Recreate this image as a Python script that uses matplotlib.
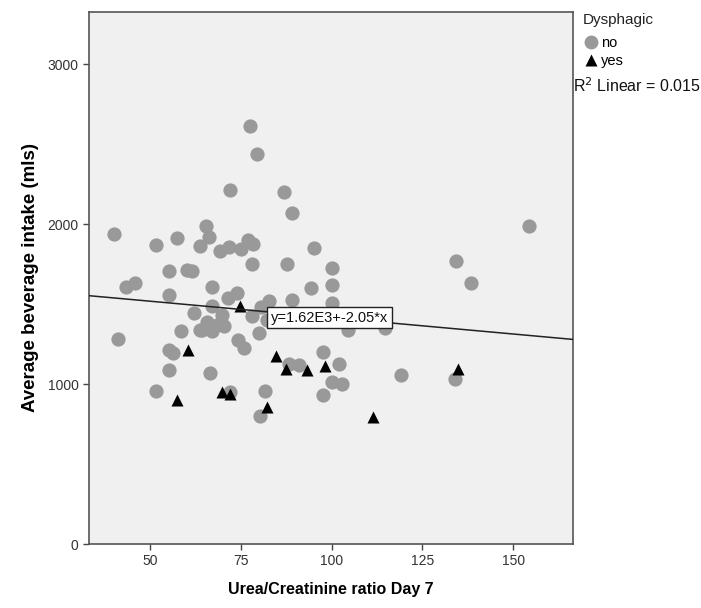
import numpy as np
import matplotlib
matplotlib.use("Agg")
import matplotlib.pyplot as plt
from matplotlib.lines import Line2D

plt.rcParams['font.family'] = ['Liberation Sans', 'DejaVu Sans']

# Dysphagic = no
no_x = [40.0, 41.1, 43.5, 45.9, 51.6, 51.7, 55.3, 55.3, 55.3, 56.3, 55.1, 57.3,
        58.6, 60.2, 61.5, 62.0, 63.7, 64.2, 65.4, 65.7, 66.2, 66.6, 67.0, 67.0,
        67.1, 69.2, 69.9, 70.3, 71.7, 72.1, 72.1, 71.6, 74.0, 74.3, 75.8, 75.0,
        77.0, 77.6, 78.4, 78.0, 78.0, 79.6, 80.0, 80.2, 80.6, 81.7, 82.2, 82.9,
        86.9, 87.6, 89.0, 89.0, 88.3, 91.0, 94.3, 95.1, 97.7, 97.7, 100.1, 100.1,
        100.1, 100.1, 102.0, 103.0, 104.4, 114.8, 119.2, 134.0, 134.3, 138.4, 154.4,
        63.8, 68.4]
no_y = [1937, 1283, 1604, 1633, 1871, 955, 1706, 1558, 1212, 1196, 1088, 1914,
        1333, 1710, 1706, 1442, 1865, 1337, 1986, 1390, 1921, 1069, 1606, 1333,
        1487, 1831, 1434, 1362, 1857, 2211, 953, 1540, 1567, 1276, 1227, 1843,
        1902, 2612, 1877, 1752, 1423, 2437, 1319, 802, 1483, 958, 1402, 1517,
        2202, 1752, 2069, 1527, 1127, 1119, 1599, 1851, 1198, 929, 1726, 1620,
        1505, 1013, 1122, 1000, 1336, 1350, 1054, 1034, 1770, 1630, 1988,
        1337, 1369]

# Dysphagic = yes
yes_x = [57.3, 60.5, 69.8, 72.0, 74.9, 82.1, 84.6, 87.5, 93.2, 98.3, 111.4, 134.8]
yes_y = [897, 1212, 947, 939, 1488, 857, 1176, 1093, 1089, 1114, 796, 1095]

# fit line from the chart
intercept = 1620
slope = -2.05
r2 = 0.015

fig = plt.figure(figsize=(7.01, 6.08), dpi=100)
ax = fig.add_axes([89 / 701, 64 / 608, 484 / 701, 532 / 608])
ax.set_facecolor('#f0f0f0')

ax.scatter(no_x, no_y, s=105, c='#999999', marker='o', linewidths=0, zorder=2)
ax.scatter(yes_x, yes_y, s=75, c='black', marker='^', linewidths=0, zorder=3)

xlim = (33.2, 166.5)
ax.set_xlim(xlim)
ax.set_ylim(0, 3325)
lx = np.array(xlim)
ax.plot(lx, intercept + slope * lx, color='#222222', lw=1.1, zorder=4)

ax.text(99.5, 1415, 'y=1.62E3+-2.05*x', fontsize=10.5, color='#111111',
        ha='center', va='center', zorder=5,
        bbox=dict(boxstyle='square,pad=0.25', fc='white', ec='#222222', lw=1))

ax.set_xticks([50, 75, 100, 125, 150])
ax.set_yticks([0, 1000, 2000, 3000])
ax.tick_params(direction='out', length=4, width=1, colors='#444444',
               labelsize=10, labelcolor='#333333')
for side in ['top', 'right', 'bottom', 'left']:
    ax.spines[side].set_color('#555555')
    ax.spines[side].set_linewidth(1.2)

ax.set_xlabel('Urea/Creatinine ratio Day 7', fontsize=11.5, fontweight='bold', labelpad=10)
ax.set_ylabel('Average beverage intake (mls)', fontsize=13.5, fontweight='bold', labelpad=6)

# legend outside on the right
fig.text(583 / 701, 1 - 20 / 608, 'Dysphagic', fontsize=11, color='#222222',
         ha='left', va='center')
handles = [Line2D([], [], ls='', marker='o', ms=10, color='#999999', mec='none'),
           Line2D([], [], ls='', marker='^', ms=8.5, color='black', mec='none')]
fig.legend(handles, ['no', 'yes'], loc='upper left', bbox_to_anchor=(582 / 701, 1 - 35 / 608),
           frameon=False, fontsize=10.5, handletextpad=0.2, handlelength=1.0,
           labelspacing=0.25, borderpad=0.1, borderaxespad=0)
fig.text(573 / 701, 1 - 86 / 608, 'R$^2$ Linear = %.3f' % r2, fontsize=11.5,
         color='#111111', ha='left', va='center')

fig.savefig('out.png', dpi=100)
